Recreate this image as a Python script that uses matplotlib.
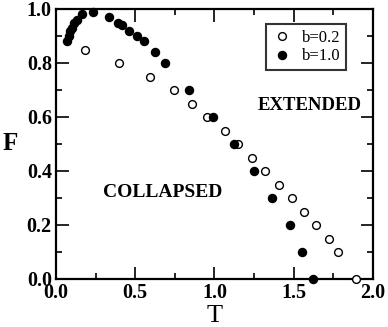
import matplotlib
matplotlib.use("Agg")
import matplotlib.pyplot as plt
from matplotlib.ticker import MultipleLocator

# b = 0.2 (open circles)
T_b02 = [0.18, 0.40, 0.59, 0.745, 0.86, 0.955, 1.064, 1.15, 1.237, 1.317,
         1.409, 1.489, 1.565, 1.642, 1.72, 1.779, 1.89]
F_b02 = [0.85, 0.80, 0.75, 0.70, 0.65, 0.60, 0.55, 0.50, 0.45, 0.40,
         0.35, 0.30, 0.25, 0.20, 0.15, 0.10, 0.00]

# b = 1.0 (filled circles)
T_b10 = [0.07, 0.08, 0.09, 0.10, 0.115, 0.13, 0.164, 0.236, 0.334, 0.391,
         0.418, 0.458, 0.513, 0.555, 0.622, 0.69, 0.841, 0.988, 1.123,
         1.247, 1.363, 1.474, 1.552, 1.621]
F_b10 = [0.88, 0.90, 0.92, 0.93, 0.95, 0.96, 0.98, 0.99, 0.97, 0.95,
         0.94, 0.92, 0.90, 0.88, 0.84, 0.80, 0.70, 0.60, 0.50,
         0.40, 0.30, 0.20, 0.10, 0.00]

plt.rcParams['font.family'] = ['Liberation Serif', 'DejaVu Serif']

fig = plt.figure(figsize=(3.88, 3.27), dpi=100)
ax = fig.add_axes([56/388, 1-279/327, (373-56)/388, (279-9)/327])

ax.plot(T_b02, F_b02, 'o', ls='none', ms=5.6, mfc='white', mec='black', mew=1.0,
        label='b=0.2', clip_on=False, zorder=3)
ax.plot(T_b10, F_b10, 'o', ls='none', ms=5.8, mfc='black', mec='black', mew=1.0,
        label='b=1.0', clip_on=False, zorder=3)

ax.set_xlim(0, 2.0)
ax.set_ylim(0, 1.0)
ax.xaxis.set_major_locator(MultipleLocator(0.5))
ax.xaxis.set_minor_locator(MultipleLocator(0.25))
ax.yaxis.set_major_locator(MultipleLocator(0.2))
ax.yaxis.set_minor_locator(MultipleLocator(0.1))
ax.xaxis.set_major_formatter(matplotlib.ticker.FormatStrFormatter('%.1f'))
ax.yaxis.set_major_formatter(matplotlib.ticker.FormatStrFormatter('%.1f'))

ax.tick_params(which='both', direction='in', top=True, right=True, width=1.2)
ax.tick_params(which='major', length=9, labelsize=14.5, pad=3)
ax.tick_params(which='minor', length=4.5)
for lab in ax.get_xticklabels() + ax.get_yticklabels():
    lab.set_fontweight('bold')
for s in ax.spines.values():
    s.set_linewidth(1.6)

ax.set_xlabel('T', fontsize=19, labelpad=1)
ax.set_ylabel('F', fontsize=18, fontweight='bold', rotation=0, labelpad=12, va='center')

ax.text(1.60, 0.643, 'EXTENDED', fontsize=13.5, fontweight='bold', ha='center', va='center')
ax.text(0.67, 0.32, 'COLLAPSED', fontsize=14, fontweight='bold', ha='center', va='center')

leg = ax.legend(loc='upper right', bbox_to_anchor=(0.915, 0.944), fontsize=12,
                frameon=True, fancybox=False, edgecolor='black', handletextpad=0.6,
                borderpad=0.35, handlelength=1.2, labelspacing=0.15, borderaxespad=0)
leg.get_frame().set_linewidth(1.5)

fig.savefig('out.png', dpi=100)
